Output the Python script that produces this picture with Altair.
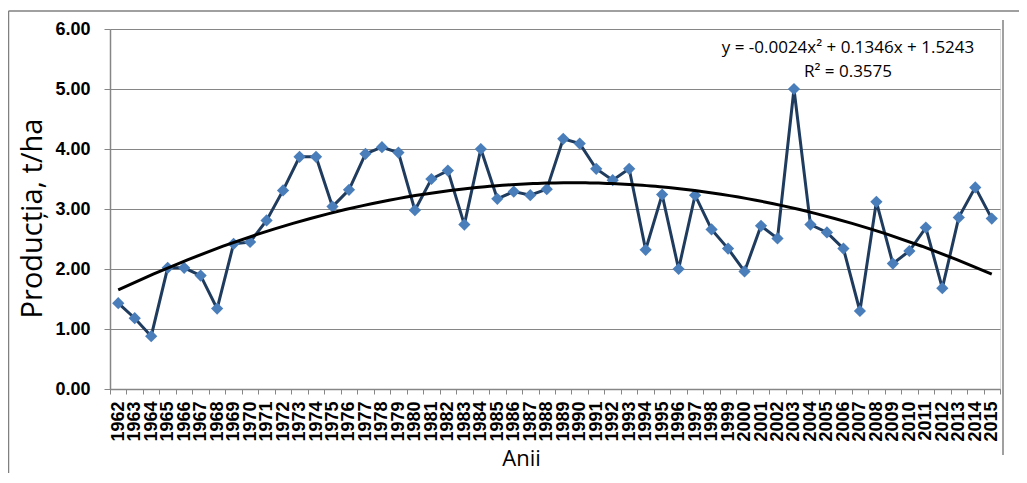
import altair as alt
import pandas as pd

years = list(range(1962, 2016))
productia = [
    1.43, 1.18, 0.88, 2.02, 2.02, 1.89, 1.34, 2.42, 2.45, 2.81,
    3.31, 3.87, 3.87, 3.04, 3.32, 3.92, 4.03, 3.94, 2.98, 3.50,
    3.64, 2.74, 4.00, 3.17, 3.29, 3.23, 3.33, 4.17, 4.09, 3.67,
    3.48, 3.67, 2.32, 3.24, 2.00, 3.23, 2.66, 2.34, 1.96, 2.72,
    2.51, 5.00, 2.74, 2.61, 2.34, 1.30, 3.12, 2.09, 2.30, 2.69,
    1.68, 2.86, 3.36, 2.84,
]
y_ticks = [0, 1, 2, 3, 4, 5, 6]
eq_line1 = "y = -0.0024x\u00b2 + 0.1346x + 1.5243"
eq_line2 = "R\u00b2 = 0.3575"

df = pd.DataFrame({"An": years, "Productia": productia})

W, H = 890, 360
GRAY = "#868686"

x_band = alt.X(
    "An:O",
    scale=alt.Scale(type="band", paddingInner=0, paddingOuter=0),
    axis=alt.Axis(
        labelAngle=-90, labelOverlap=False, tickBand="extent",
        labelFont="Liberation Sans", labelFontSize=18, labelFontWeight="bold",
        labelColor="#000000", labelPadding=7, labelFlush=False, labelBound=False,
        tickSize=5, tickColor=GRAY, domainColor=GRAY, domainWidth=1.5, grid=False,
        title="Anii", titleFont="Open Sans", titleFontSize=22, titleFontWeight="normal",
        titleColor="#000000", titleX=411, titleY=76, titleAlign="center",
        titleBaseline="alphabetic",
    ),
)
y_enc = alt.Y(
    "Productia:Q",
    scale=alt.Scale(domain=[0, 6], nice=False),
    axis=alt.Axis(
        values=y_ticks, format=".2f",
        labelFont="Liberation Sans", labelFontSize=18, labelFontWeight="bold",
        labelColor="#000000", labelPadding=14, tickSize=6, tickColor=GRAY,
        domainColor=GRAY, domainWidth=1.5, grid=True, gridColor=GRAY, gridWidth=1,
        title="Produc\u021bia, t/ha", titleFont="Open Sans", titleFontSize=29,
        titleFontWeight="normal", titleColor="#000000", titleAngle=-90,
        titleX=-69, titleY=189, titleAlign="center", titleBaseline="alphabetic",
    ),
)

base = alt.Chart(df)

line = base.mark_line(color="#1F3B5E", strokeWidth=3).encode(x=x_band, y=y_enc)
pts = base.mark_point(shape="diamond", filled=True, size=150, color="#4A7EBB", opacity=1).encode(
    x=alt.X("An:O"), y="Productia:Q"
)
data_layers = alt.layer(line, pts)

trend = base.transform_regression(
    "An", "Productia", method="poly", order=2
).mark_line(color="#000000", strokeWidth=3).encode(
    x=alt.X("An:Q", scale=alt.Scale(domain=[years[0] - 0.5, years[-1] + 0.5], nice=False, zero=False), axis=None),
    y=alt.Y("Productia:Q"),
)

one = pd.DataFrame({"k": [0]})
frame_left = alt.Chart(one).mark_rule(color="#808080", strokeWidth=1.5).encode(
    x=alt.value(-101.5), y=alt.value(-18), y2=alt.value(470)
)
frame_top = alt.Chart(one).mark_rule(color="#808080", strokeWidth=1.5).encode(
    x=alt.value(-101.5), x2=alt.value(912), y=alt.value(-18)
)
frame_right = alt.Chart(one).mark_rule(color="#808080", strokeWidth=1.5).encode(
    x=alt.value(893), y=alt.value(-9), y2=alt.value(426)
)
eq1 = alt.Chart(one).mark_text(
    text=eq_line1, font="Open Sans", fontSize=17, color="#000000", align="center", baseline="alphabetic"
).encode(x=alt.value(738), y=alt.value(24))
eq2 = alt.Chart(one).mark_text(
    text=eq_line2, font="Open Sans", fontSize=17, color="#000000", align="center", baseline="alphabetic"
).encode(x=alt.value(738), y=alt.value(48))

chart = alt.layer(
    data_layers, trend, frame_left, frame_top, frame_right, eq1, eq2
).resolve_scale(x="independent").properties(
    width=W, height=H,
    autosize=alt.AutoSizeParams(type="none"),
    padding={"left": 102, "top": 21, "right": 19, "bottom": 84},
).configure_view(stroke=None).configure(background="#ffffff")

chart.save("out.html", embed_options={"renderer": "svg", "actions": False})
